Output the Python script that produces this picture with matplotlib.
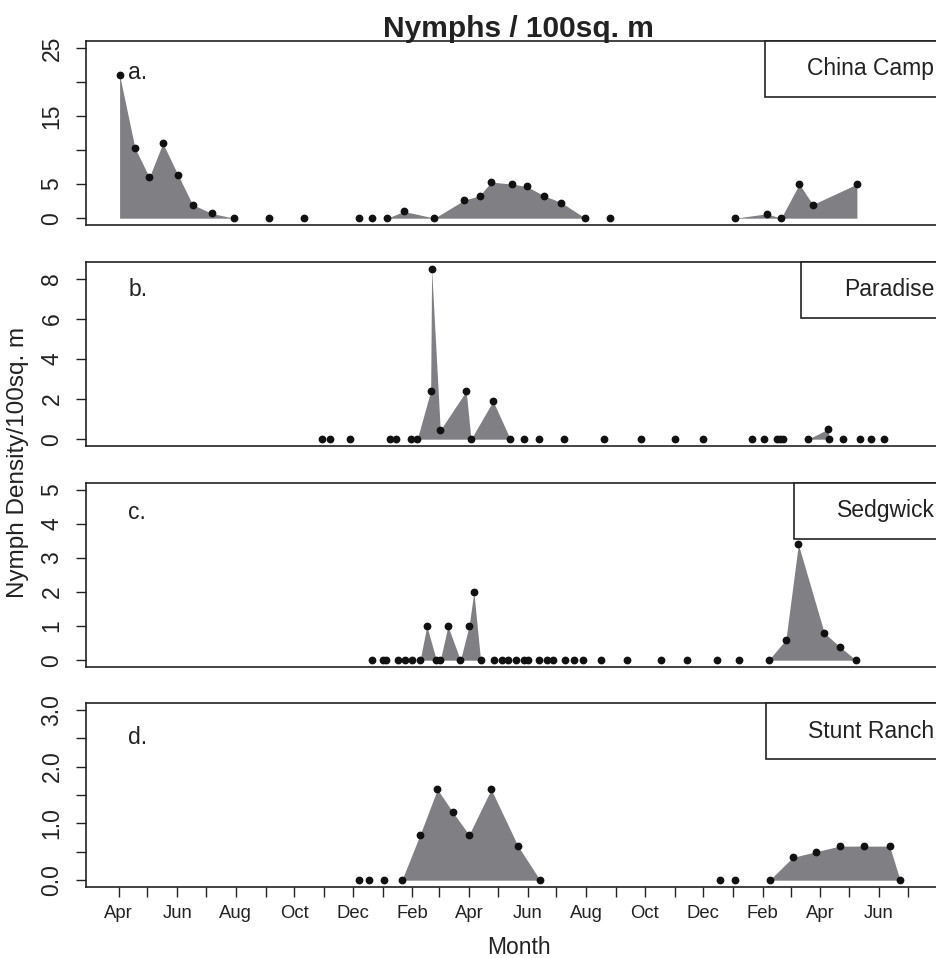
import datetime as dt
import matplotlib
matplotlib.use("Agg")
import matplotlib.pyplot as plt
import matplotlib.dates as mdates
from matplotlib.lines import Line2D
from matplotlib.ticker import FixedLocator, FuncFormatter

plt.rcParams['font.family'] = ['Liberation Sans', 'DejaVu Sans']

START = dt.date(2006, 4, 1)

# sampling day (days after 1 Apr of the first season) and nymphs / 100 sq. m
china_day = [1, 17, 32, 46, 62, 77, 97, 120, 157, 193, 250, 264, 280, 297, 329,
             360, 376, 388, 410, 425, 443, 461, 486, 512, 642, 675, 690, 709, 723, 769]
china_n = [21, 10.3, 6, 11, 6.3, 2, 0.7, 0, 0, 0, 0, 0, 0, 1, 0,
           2.65, 3.3, 5.3, 5, 4.65, 3.3, 2.3, 0, 0, 0, 0.64, 0, 5, 2, 5]

paradise_day = [212, 220, 241, 283, 289, 305, 311, 325, 326, 335, 362, 367, 390, 408,
                422, 438, 464, 506, 544, 580, 609, 660, 672, 686, 689, 692, 718, 739,
                740, 755, 772, 784, 797]
paradise_n = [0, 0, 0, 0, 0, 0, 0, 2.4, 8.5, 0.45, 2.4, 0, 1.9, 0,
              0, 0, 0, 0, 0, 0, 0, 0, 0, 0, 0, 0, 0, 0.5,
              0, 0, 0, 0, 0]

sedgwick_day = [264, 275, 279, 291, 298, 306, 314, 321, 331, 335, 343, 356, 365, 370,
                377, 391, 399, 406, 414, 422, 426, 438, 446, 452, 465, 474, 484, 502,
                530, 565, 592, 623, 646, 677, 695, 708, 735, 751, 768]
sedgwick_n = [0, 0, 0, 0, 0, 0, 0, 1, 0, 0, 1, 0, 1, 2,
              0, 0, 0, 0, 0, 0, 0, 0, 0, 0, 0, 0, 0, 0,
              0, 0, 0, 0, 0, 0, 0.6, 3.4, 0.8, 0.4, 0]

stunt_day = [250, 261, 276, 295, 314, 332, 348, 365, 388, 416, 439,
             626, 642, 678, 702, 726, 751, 776, 803, 814]
stunt_n = [0, 0, 0, 0, 0.8, 1.6, 1.2, 0.8, 1.6, 0.6, 0,
           0, 0, 0, 0.4, 0.5, 0.6, 0.6, 0.6, 0]

sites = ["China Camp", "Paradise", "Sedgwick", "Stunt Ranch"]
tags = ["a.", "b.", "c.", "d."]
ymax = [25, 8.5, 5, 3]
yticks = [[0, 5, 10, 15, 20, 25], [0, 2, 4, 6, 8], [0, 1, 2, 3, 4, 5],
          [0, 0.5, 1, 1.5, 2, 2.5, 3]]
ytick_labels = [["0", "5", "", "15", "", "25"], ["0", "2", "4", "6", "8"],
                ["0", "1", "2", "3", "4", "5"],
                ["0.0", "", "1.0", "", "2.0", "", "3.0"]]
tag_y = [0.83, 0.848, 0.842, 0.815]

series = [(china_day, china_n), (paradise_day, paradise_n),
          (sedgwick_day, sedgwick_n), (stunt_day, stunt_n)]


def to_dates(days):
    return [START + dt.timedelta(days=d) for d in days]


# one tick per month, Apr 2006 .. Jul 2008
month_ticks = [dt.date(2006 + (3 + k) // 12, (3 + k) % 12 + 1, 1) for k in range(28)]

W, H = 937, 958
fig = plt.figure(figsize=(W / 100, H / 100), dpi=100)

left_px, right_px = 86, 951
bottoms_px = [225, 446, 667, 887]
panel_h = 184
ink = "#222222"
fill_col = "#808084"

for i, (days, vals) in enumerate(series):
    ax = fig.add_axes([left_px / W, 1 - bottoms_px[i] / H,
                       (right_px - left_px) / W, panel_h / H])
    x = to_dates(days)
    ax.fill_between(x, vals, 0, color=fill_col, linewidth=0, zorder=2)
    ax.plot(x, vals, linestyle="none", marker="o", markersize=4.6,
            color="#111111", zorder=3)

    ext = 0.04 * ymax[i]
    ax.set_ylim(-ext, ymax[i] + ext)
    ax.set_xlim(START - dt.timedelta(days=34), START + dt.timedelta(days=867))
    ax.set_yticks(yticks[i])
    ax.set_yticklabels(ytick_labels[i], rotation=90, va="center", fontsize=16.5,
                       color=ink)
    ax.tick_params(axis="y", length=7.2, width=1.0, pad=9, color=ink)
    for sp in ax.spines.values():
        sp.set_color(ink)
        sp.set_linewidth(1.2)

    ax.text(0.049, tag_y[i], tags[i], transform=ax.transAxes, fontsize=16.5,
            color=ink, va="center", ha="left")

    leg = ax.legend([Line2D([], [], linestyle="none")], [sites[i]],
                    loc="upper right", borderaxespad=0, fancybox=False,
                    framealpha=1, edgecolor=ink, fontsize=16.5,
                    handlelength=0.75, handletextpad=0.4, borderpad=0.72)
    leg.get_frame().set_linewidth(1.2)
    for t in leg.get_texts():
        t.set_color(ink)

    if i < 3:
        ax.set_xticks([])
    else:
        ax.xaxis.set_major_locator(FixedLocator(mdates.date2num(month_ticks)))
        ax.xaxis.set_major_formatter(FuncFormatter(
            lambda v, pos: mdates.num2date(v).strftime("%b")
            if mdates.num2date(v).month % 2 == 0 else ""))
        ax.tick_params(axis="x", length=7.2, width=1.0, pad=6, color=ink,
                       labelsize=13.3, labelcolor=ink)

cx = (left_px + right_px) / 2 / W
fig.text(cx, 1 - 29 / H, "Nymphs / 100sq. m", ha="center", va="center",
         fontsize=21.5, fontweight="bold", color=ink)
fig.text(18 / W, 1 - 462 / H, "Nymph Density/100sq. m", rotation=90,
         ha="center", va="center", fontsize=17.5, color=ink)
fig.text(cx, 1 - 947 / H, "Month", ha="center", va="center", fontsize=16.5,
         color=ink)

fig.savefig("out.png", dpi=100)
